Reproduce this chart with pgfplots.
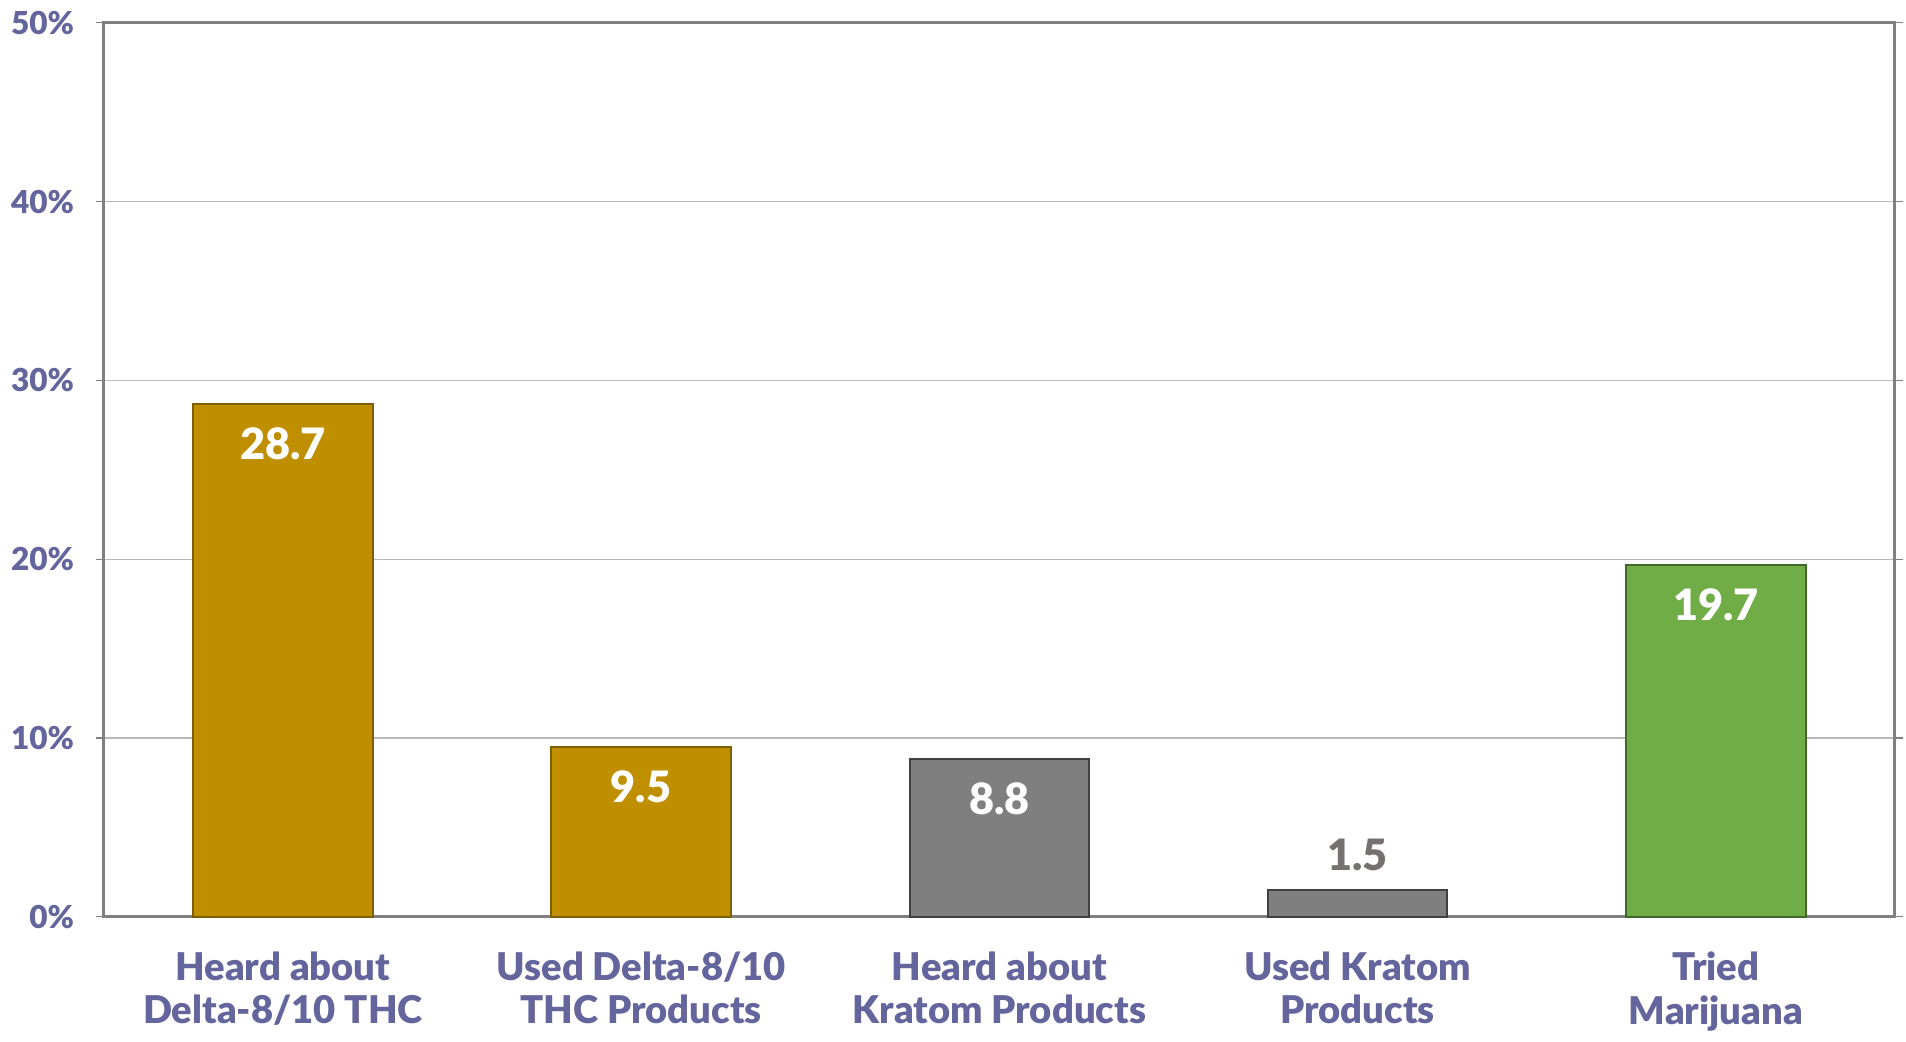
\documentclass[border=0pt]{standalone}
\usepackage{pgfplots}
\pgfplotsset{compat=1.18}
\usepackage{fontspec}
\setmainfont{Lato}[BoldFont={Lato Black}]
\definecolor{txt}{HTML}{64659C}
\definecolor{gold}{HTML}{BF8F00}
\definecolor{goldedge}{HTML}{7F6000}
\definecolor{gry}{HTML}{7F7F7F}
\definecolor{gryedge}{HTML}{404040}
\definecolor{grn}{HTML}{70AD47}
\definecolor{grnedge}{HTML}{43682B}
\definecolor{lbl}{HTML}{767171}
\begin{document}
\begin{tikzpicture}
  \begin{axis}[
    scale only axis,
    width=539pt, height=269pt,
    xmin=-0.5, xmax=4.5,
    ymin=0, ymax=50,
    ytick={0,10,...,50},
    yticklabel={\pgfmathprintnumber{\tick}\%},
    /pgf/number format/assume math mode=true,
    xtick={0,...,4},
    xticklabels={{Heard about\\Delta-8/10 THC},{Used Delta-8/10\\THC Products},{Heard about\\Kratom Products},{Used Kratom\\Products},{Tried\\Marijuana}},
    xticklabel style={align=center, font=\fontsize{11.5}{13.2}\selectfont\bfseries, text=txt, yshift=-4.5pt},
    yticklabel style={font=\fontsize{9.5}{11}\selectfont\bfseries, text=txt, xshift=-3pt},
    major x tick style={draw=none},
    extra x ticks={-0.5,0.5,...,4.5},
    extra x tick labels={},
    extra x tick style={major tick length=4pt, tick style={draw=gray!70, line width=0.4pt}, tick align=outside, grid=none},
    tick align=outside,
    major tick length=2.4pt,
    ytick style={draw=gray, line width=0.4pt},
    ymajorgrids=true,
    grid style={gray!55, line width=0.4pt},
    axis line style={draw=gray, line width=0.9pt},
    ybar, bar width=54pt, bar shift=0pt,
    clip=false,
  ]
    \addplot[fill=gold, draw=goldedge, line width=0.6pt, nodes near coords,
      every node near coord/.append style={font=\fontsize{13}{15}\selectfont\bfseries, text=white, anchor=north, yshift=-3.5pt}]
      coordinates {(0,28.7) (1,9.5)};
    \addplot[fill=gry, draw=gryedge, line width=0.6pt, nodes near coords,
      every node near coord/.append style={font=\fontsize{13}{15}\selectfont\bfseries, text=white, anchor=north, yshift=-3.5pt}]
      coordinates {(2,8.8)};
    \addplot[fill=gry, draw=gryedge, line width=0.6pt, nodes near coords,
      every node near coord/.append style={font=\fontsize{13}{15}\selectfont\bfseries, text=lbl, anchor=south, yshift=2pt}]
      coordinates {(3,1.5)};
    \addplot[fill=grn, draw=grnedge, line width=0.6pt, nodes near coords,
      every node near coord/.append style={font=\fontsize{13}{15}\selectfont\bfseries, text=white, anchor=north, yshift=-3.5pt}]
      coordinates {(4,19.7)};
  \end{axis}
\end{tikzpicture}
\end{document}
